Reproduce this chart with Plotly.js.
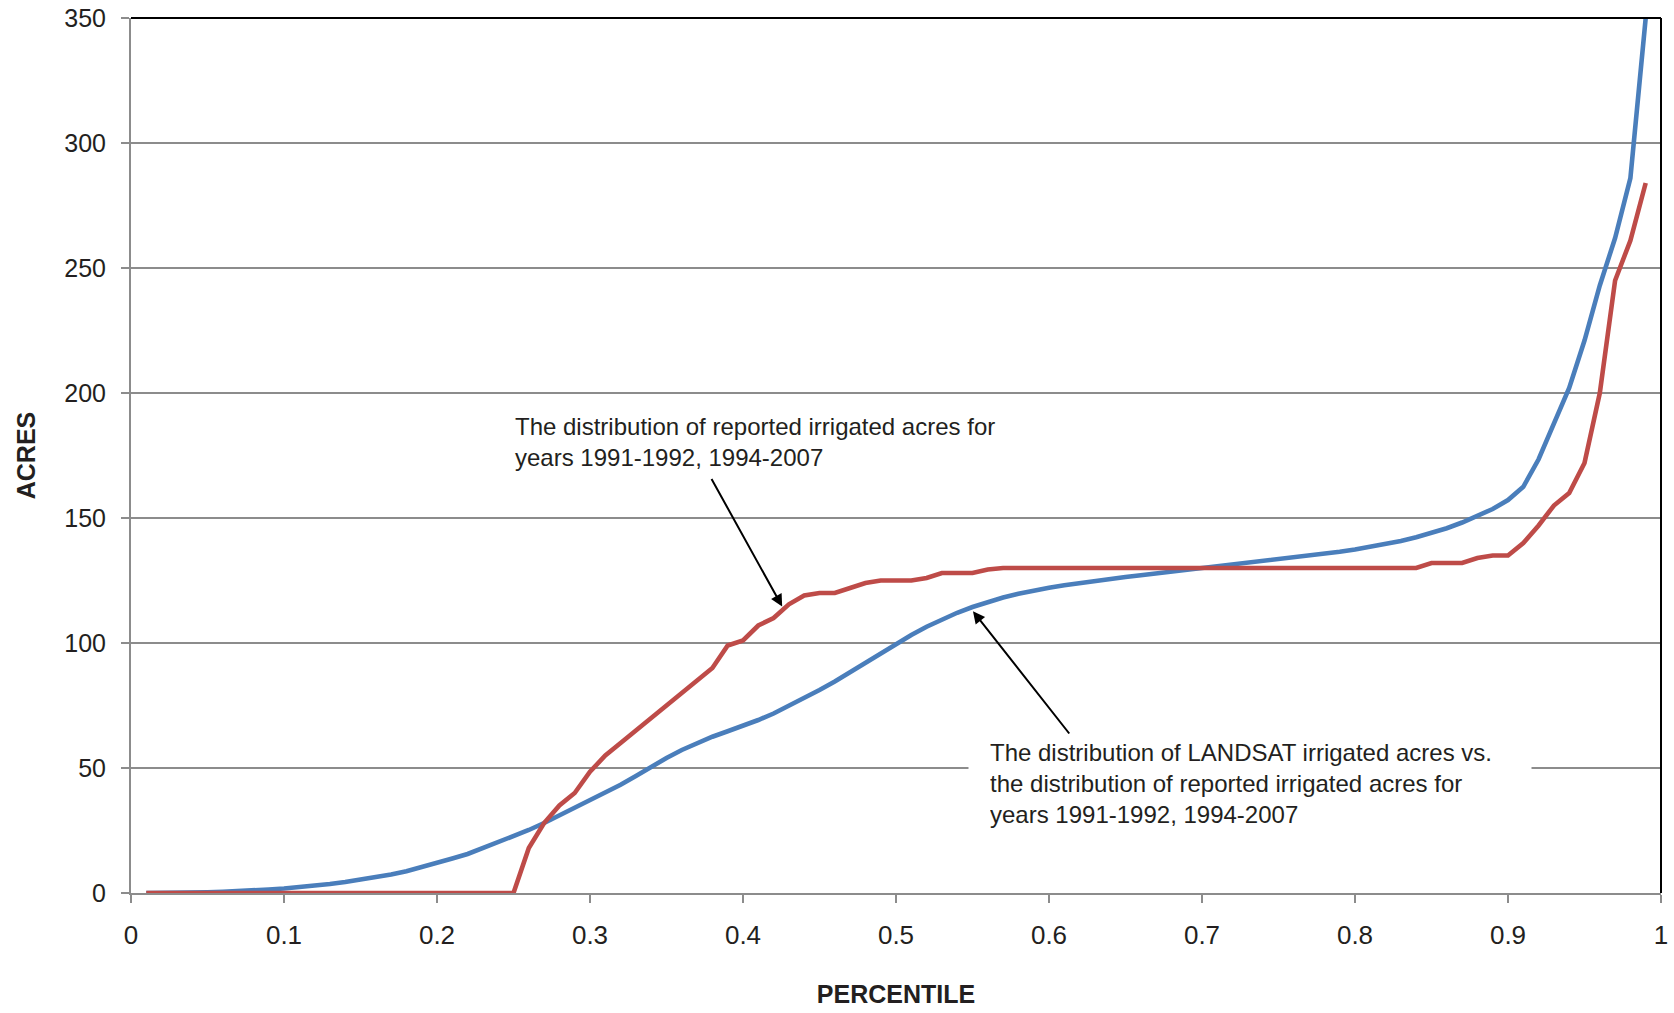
<!DOCTYPE html>
<html>
<head>
<meta charset="utf-8">
<script src="https://cdn.plot.ly/plotly-3.0.1.min.js"></script>
<style>html,body{margin:0;padding:0;background:#fff;}#chart{width:1674px;height:1013px;}</style>
</head>
<body>
<div id="chart"></div>
<script>
var percentile = [0.01,0.02,0.03,0.04,0.05,0.06,0.07,0.08,0.09,0.10,
0.11,0.12,0.13,0.14,0.15,0.16,0.17,0.18,0.19,0.20,
0.21,0.22,0.23,0.24,0.25,0.26,0.27,0.28,0.29,0.30,
0.31,0.32,0.33,0.34,0.35,0.36,0.37,0.38,0.39,0.40,
0.41,0.42,0.43,0.44,0.45,0.46,0.47,0.48,0.49,0.50,
0.51,0.52,0.53,0.54,0.55,0.56,0.57,0.58,0.59,0.60,
0.61,0.62,0.63,0.64,0.65,0.66,0.67,0.68,0.69,0.70,
0.71,0.72,0.73,0.74,0.75,0.76,0.77,0.78,0.79,0.80,
0.81,0.82,0.83,0.84,0.85,0.86,0.87,0.88,0.89,0.90,
0.91,0.92,0.93,0.94,0.95,0.96,0.97,0.98,0.99];

var landsatAcres = [0,0,0.1,0.2,0.3,0.5,0.7,1.0,1.4,1.8,
2.3,2.9,3.6,4.4,5.3,6.3,7.4,8.7,10.3,12.0,
13.8,15.6,17.9,20.3,22.7,25.2,28.0,31.0,33.9,37.0,
40.0,43.3,46.8,50.5,54.0,57.2,60.0,62.5,64.7,66.8,
69.2,71.8,74.8,77.9,81.2,84.6,88.4,92.3,95.8,99.5,
103.2,106.5,109.5,112.1,114.4,116.4,118.2,119.7,121.0,122.1,
123.1,124.0,124.8,125.6,126.4,127.1,127.8,128.5,129.2,129.9,
130.6,131.3,132.0,132.7,133.4,134.1,134.9,135.7,136.5,137.4,
138.4,139.5,140.8,142.3,144.0,145.9,148.2,150.8,153.6,157.2,
162.5,173.5,188,202,221,243,262,286,350];

var reportedAcres = [0,0,0,0,0,0,0,0,0,0,
0,0,0,0,0,0,0,0,0,0,
0,0,0,0,0,18,28,35,40,48.5,
55,60,65,70,75,80,85,90,99,101,
107,110,115.5,119,120,120,122,124,125,125,
125,126,128,128,128,129.4,130,130,130,130,
130,130,130,130,130,130,130,130,130,130,
130,130,130,130,130,130,130,130,130,130,
130,130,130,130,132,132,132,134,135,135,
140,147,155,160,172,200,245,261,284];

var xTickVals = [0,0.1,0.2,0.3,0.4,0.5,0.6,0.7,0.8,0.9,1];
var xTickText = ['0','0.1','0.2','0.3','0.4','0.5','0.6','0.7','0.8','0.9','1'];
var yTickVals = [0,50,100,150,200,250,300,350];
var yTickText = ['0','50','100','150','200','250','300','350'];

var noteReported = 'The distribution of reported irrigated acres for<br>years 1991-1992, 1994-2007';
var noteLandsat = 'The distribution of LANDSAT irrigated acres vs.<br>the distribution of reported irrigated acres for<br>years 1991-1992, 1994-2007';

var FONT = 'Liberation Sans, Arial, Helvetica, sans-serif';

var traces = [
  {x: percentile, y: landsatAcres, type: 'scatter', mode: 'lines', name: 'LANDSAT',
   line: {color: '#4a7ebb', width: 4.6}},
  {x: percentile, y: reportedAcres, type: 'scatter', mode: 'lines', name: 'Reported',
   line: {color: '#be4b48', width: 4.6}}
];

var layout = {
  width: 1674, height: 1013,
  margin: {l: 131, r: 13, t: 18, b: 120, pad: 0},
  paper_bgcolor: '#fff', plot_bgcolor: '#fff',
  showlegend: false,
  font: {family: FONT, color: '#231f20'},
  xaxis: {
    range: [0, 1], tickvals: xTickVals, ticktext: xTickText,
    ticks: 'outside', ticklen: 8, tickwidth: 2, tickcolor: '#8c8c8c',
    showline: true, linecolor: '#8c8c8c', linewidth: 2,
    showgrid: false, zeroline: false,
    tickfont: {size: 26, family: FONT, color: '#231f20'},
    ticklabelstandoff: 10,
    title: {text: 'PERCENTILE', font: {size: 25, family: FONT, weight: 'bold', color: '#231f20'}, standoff: 36},
    automargin: false, fixedrange: true
  },
  yaxis: {
    range: [0, 350], tickvals: yTickVals, ticktext: yTickText,
    ticks: 'outside', ticklen: 8, tickwidth: 2, tickcolor: '#8c8c8c',
    showline: true, linecolor: '#8c8c8c', linewidth: 2,
    showgrid: true, gridcolor: '#8c8c8c', gridwidth: 1.5, zeroline: false,
    tickfont: {size: 25, family: FONT, color: '#231f20'},
    ticklabelstandoff: 10,
    title: {text: 'ACRES', font: {size: 25, family: FONT, weight: 'bold', color: '#231f20'}, standoff: 22},
    automargin: false, fixedrange: true
  },
  shapes: [
    {type: 'line', xref: 'paper', yref: 'paper', x0: 0, x1: 1, y0: 1, y1: 1, line: {color: '#000', width: 2}},
    {type: 'line', xref: 'paper', yref: 'paper', x0: 1, x1: 1, y0: 0, y1: 1, line: {color: '#000', width: 2}}
  ],
  annotations: [
    {xref: 'x', yref: 'y', x: 0.2498, y: 180.6, xanchor: 'left', yanchor: 'middle', align: 'left',
     text: noteReported, showarrow: false, font: {size: 24, family: FONT, color: '#231f20'}},
    {xref: 'x', yref: 'y', x: 0.5468, y: 44, xanchor: 'left', yanchor: 'middle', align: 'left',
     text: noteLandsat, showarrow: false, bgcolor: '#fff', borderpad: 21, width: 520,
     font: {size: 24, family: FONT, color: '#231f20'}},
    {xref: 'x', yref: 'y', axref: 'x', ayref: 'y', x: 0.4256, y: 114.6, ax: 0.3789, ay: 166.2,
     text: '', showarrow: true, arrowhead: 2, arrowsize: 1.2, arrowwidth: 2, arrowcolor: '#000', standoff: 0},
    {xref: 'x', yref: 'y', axref: 'x', ayref: 'y', x: 0.5503, y: 112.7, ax: 0.614, ay: 63.2,
     text: '', showarrow: true, arrowhead: 2, arrowsize: 1.2, arrowwidth: 2, arrowcolor: '#000', standoff: 0}
  ]
};

Plotly.newPlot('chart', traces, layout, {displayModeBar: false, staticPlot: true});
</script>
</body>
</html>
